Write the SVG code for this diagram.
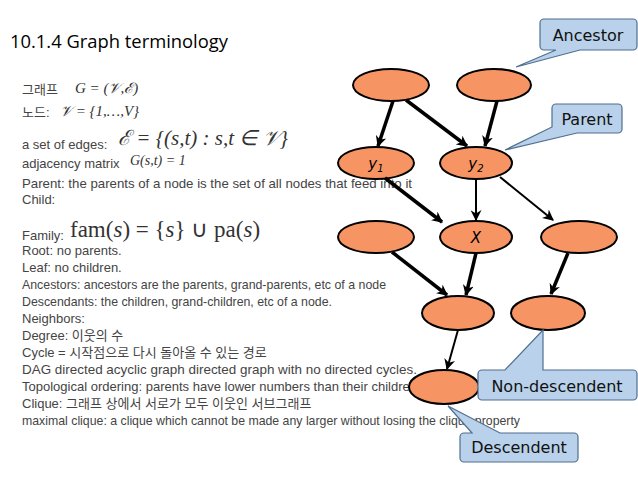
<svg xmlns="http://www.w3.org/2000/svg" width="638" height="478" viewBox="0 0 638 478">
<defs>
<style>
.t{font-family:"Liberation Sans",Arial,"Noto Sans CJK KR",sans-serif;font-size:13px;fill:#444}
.m{font-family:"Liberation Serif","Times New Roman",serif;font-style:italic;fill:#333}
.n{fill:#f79463;stroke:#000;stroke-width:2}
.nl{font-family:"DejaVu Sans",sans-serif;font-size:15px;text-anchor:middle;font-style:italic}
.c{fill:#b9d1ea;stroke:#4f6f90;stroke-width:1.2}
.cl{font-family:"DejaVu Sans",sans-serif;font-size:16px;fill:#111;text-anchor:middle}
.e{stroke:#000;stroke-width:3.5;marker-end:url(#a)}
.e2{stroke:#000;stroke-width:2;marker-end:url(#a)}
</style>
<marker id="a" viewBox="0 0 10 10" refX="9" refY="5" markerWidth="11" markerHeight="11" markerUnits="userSpaceOnUse" orient="auto">
<path d="M0,0L10,5L0,10L3,5z" fill="#000"/>
</marker>
</defs>
<rect width="638" height="478" fill="#fff"/>
<text x="10" y="48" font-family="Open Sans,Liberation Sans,sans-serif" font-size="19" fill="#000" textLength="218" lengthAdjust="spacingAndGlyphs">10.1.4 Graph terminology</text>
<g id="text">
<text class="t" x="22" y="94">그래프</text><text class="m" x="75" y="93" font-size="15">G = (𝒱,ℰ)</text>
<text class="t" x="22" y="117">노드:</text><text class="m" x="60" y="116" font-size="15">𝒱 = {1,…,V}</text>
<text class="t" x="22" y="149">a set of edges:</text><text class="m" x="118" y="145" font-size="21">ℰ = {(s,t) : s,t ∈ 𝒱}</text>
<text class="t" x="22" y="168">adjacency matrix</text><text class="m" x="130" y="165" font-size="14">G(s,t) = 1</text>
<text class="t" x="22" y="188" textLength="390" lengthAdjust="spacingAndGlyphs">Parent: the parents of a node is the set of all nodes that feed into it</text>
<text class="t" x="22" y="204">Child:</text>
<text class="t" x="22" y="240">Family:</text><text x="70" y="237" font-family="Liberation Serif,serif" font-size="23" fill="#333">fam(<tspan font-style="italic">s</tspan>) = {<tspan font-style="italic">s</tspan>} ∪ pa(<tspan font-style="italic">s</tspan>)</text>
<text class="t" x="22" y="255">Root: no parents.</text>
<text class="t" x="22" y="272">Leaf: no children.</text>
<text class="t" x="22" y="289" textLength="364" lengthAdjust="spacingAndGlyphs">Ancestors: ancestors are the parents, grand-parents, etc of a node</text>
<text class="t" x="22" y="306" textLength="310" lengthAdjust="spacingAndGlyphs">Descendants: the children, grand-children, etc of a node.</text>
<text class="t" x="22" y="323">Neighbors:</text>
<text class="t" x="22" y="340">Degree: 이웃의 수</text>
<text class="t" x="22" y="357">Cycle = 시작점으로 다시 돌아올 수 있는 경로</text>
<text class="t" x="22" y="374" textLength="395" lengthAdjust="spacingAndGlyphs">DAG directed acyclic graph directed graph with no directed cycles.</text>
<text class="t" x="22" y="391" textLength="395" lengthAdjust="spacingAndGlyphs">Topological ordering: parents have lower numbers than their children</text>
<text class="t" x="22" y="408">Clique: 그래프 상에서 서로가 모두 이웃인 서브그래프</text>
<text class="t" x="22" y="425" textLength="498" lengthAdjust="spacingAndGlyphs">maximal clique: a clique which cannot be made any larger without losing the clique property</text>
</g>
<g id="A1"><ellipse class="n" cx="391" cy="85" rx="38" ry="16"/></g>
<g id="A2"><ellipse class="n" cx="494" cy="85" rx="37" ry="16"/></g>
<g id="Y1"><ellipse class="n" cx="376" cy="163" rx="38" ry="16"/><text class="nl" x="376" y="169">y<tspan font-size="10" dy="3">1</tspan></text></g>
<g id="Y2"><ellipse class="n" cx="476" cy="163" rx="36" ry="16"/><text class="nl" x="476" y="169">y<tspan font-size="10" dy="3">2</tspan></text></g>
<g id="N3"><ellipse class="n" cx="376" cy="237" rx="38" ry="16"/></g>
<g id="X"><ellipse class="n" cx="476" cy="237" rx="36" ry="16"/><text class="nl" x="476" y="243">X</text></g>
<g id="R"><ellipse class="n" cx="579" cy="237" rx="38" ry="16"/></g>
<g id="M1"><ellipse class="n" cx="458" cy="313" rx="36" ry="17"/></g>
<g id="M2"><ellipse class="n" cx="548" cy="313" rx="37" ry="17"/></g>
<g id="D"><ellipse class="n" cx="444" cy="387" rx="35" ry="17"/></g>
<g id="connectors">
<line class="e" x1="393" y1="101" x2="378" y2="146"/>
<line class="e" x1="406" y1="100" x2="467" y2="146"/>
<line class="e" x1="497" y1="101" x2="485" y2="146"/>
<line class="e" x1="385" y1="178" x2="442" y2="222"/>
<line class="e2" x1="476" y1="179" x2="476" y2="220"/>
<line class="e2" x1="500" y1="177" x2="553" y2="220"/>
<line class="e" x1="392" y1="252" x2="447" y2="295"/>
<line class="e" x1="476" y1="253" x2="466" y2="295"/>
<line class="e" x1="568" y1="253" x2="551" y2="294"/>
<line class="e2" x1="458" y1="330" x2="447" y2="369"/>
</g>
<g id="ancestor"><path class="c" d="M544,19H633a4,4 0 0 1 4,4V46a4,4 0 0 1 -4,4H580L516,67L556,50H544a4,4 0 0 1 -4,-4V23a4,4 0 0 1 4,-4z"/><text class="cl" x="588" y="41">Ancestor</text></g>
<g id="parent"><path class="c" d="M556,104H618a4,4 0 0 1 4,4V129a4,4 0 0 1 -4,4H577L505,150L552,127V108a4,4 0 0 1 4,-4z"/><text class="cl" x="587" y="125">Parent</text></g>
<g id="nondesc"><path class="c" d="M482,370H505L543,330V370H633a4,4 0 0 1 4,4V396a4,4 0 0 1 -4,4H482a4,4 0 0 1 -4,-4V374a4,4 0 0 1 4,-4z"/><text class="cl" x="557" y="392">Non-descendent</text></g>
<g id="desc"><path class="c" d="M464,433H472L448,406L500,433H574a4,4 0 0 1 4,4V458a4,4 0 0 1 -4,4H464a4,4 0 0 1 -4,-4V437a4,4 0 0 1 4,-4z"/><text class="cl" x="519" y="453">Descendent</text></g>
</svg>
